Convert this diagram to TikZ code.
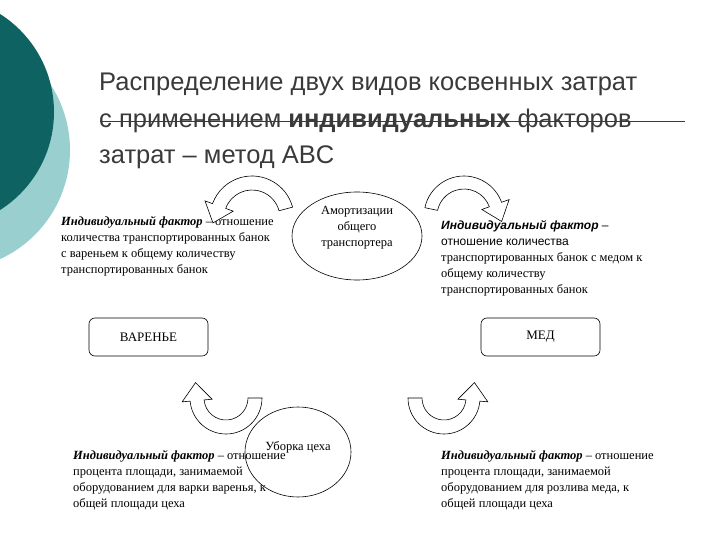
\documentclass[tikz,border=0pt]{standalone}
\usepackage{fontspec}
\setmainfont{Liberation Serif}
\newfontfamily\titlefont{Liberation Sans}
\usetikzlibrary{calc}
\definecolor{darkteal}{HTML}{0F6262}
\definecolor{lightteal}{HTML}{9ACFCF}
\definecolor{titlegray}{HTML}{3A3A3A}
\newcommand\barrow[6]{%
\pgfmathsetmacro\dirang{ifthenelse(#6>#5,90,-90)}%
\draw[fill=white,line width=0.6pt] ({#1+#4*cos(#5)},{#2+#4*sin(#5)}) arc[start angle=#5,end angle=#6,radius=#4]
 -- ({#1+(#4+8)*cos(#6)},{#2+(#4+8)*sin(#6)})
 -- ({#1+(#3+#4)/2*cos(#6)+18*cos(#6+\dirang)},{#2+(#3+#4)/2*sin(#6)+18*sin(#6+\dirang)})
 -- ({#1+(#3-8)*cos(#6)},{#2+(#3-8)*sin(#6)})
 -- ({#1+#3*cos(#6)},{#2+#3*sin(#6)}) arc[start angle=#6,end angle=#5,radius=#3] -- cycle;}
\begin{document}
\begin{tikzpicture}[x=1pt,y=-1pt,
  body/.style={anchor=north west,align=left,font=\fontsize{12.5}{16}\selectfont,inner sep=0pt},
  ctext/.style={align=center,font=\fontsize{12.5}{16}\selectfont,inner sep=0pt},
  prod/.style={draw,rounded corners=6pt,minimum width=119pt,minimum height=38pt,font=\fontsize{13}{15}\selectfont,line width=0.6pt}]
\useasboundingbox (0,0) rectangle (720,540);
\fill[lightteal] (-50,150) circle[radius=120];
\fill[darkteal] (-62,112) circle[radius=116];
% title
\node[anchor=north west,align=left,text=titlegray,font=\titlefont\fontsize{25.5}{36.5}\selectfont,inner sep=0pt] (title) at (99,73)
 {Распределение двух видов косвенных затрат\\с применением \textbf{индивидуальных} факторов\\затрат – метод ABC};
\draw[titlegray,line width=0.8pt] (100,121) -- (685,121);
% ellipses
\draw[line width=0.6pt] (357,236) ellipse[x radius=65,y radius=44];
\node[ctext] (amort) at (357,228) {Амортизации\\общего\\транспортера};
\draw[line width=0.6pt] (298,452) ellipse[x radius=53,y radius=45];
\node[ctext,anchor=north] (uborka) at (298,441) {Уборка цеха};
% boxes
\node[prod] (var) at (148.5,337) {ВАРЕНЬЕ};
\node[prod] (med) at (540.5,337) {МЕД};
% texts
\node[body] (t1) at (61,216) {\textbf{\textit{Индивидуальный фактор}} – отношение\\количества транспортированных банок\\с вареньем к общему количеству\\транспортированных банок};
\node[body] (t2) at (441,220) {{\titlefont\fontsize{12}{16}\selectfont\textbf{\textit{Индивидуальный фактор}} –}\\{\titlefont\fontsize{12}{16}\selectfont отношение количества}\\транспортированных банок с медом к\\общему количеству\\транспортированных банок};
\node[body] (t3) at (73,450) {\textbf{\textit{Индивидуальный фактор}} – отношение\\процента площади, занимаемой\\оборудованием для варки варенья, к\\общей площади цеха};
\node[body] (t4) at (441,450) {\textbf{\textit{Индивидуальный фактор}} – отношение\\процента площади, занимаемой\\оборудованием для розлива меда, к\\общей площади цеха};
% curved block arrows
\barrow{252}{218}{28}{42}{-15}{-160}
\barrow{464}{216}{27}{40}{-168}{-20}
\barrow{226}{398}{22}{36}{0}{175}
\barrow{444}{398}{22}{36}{180}{5}
\end{tikzpicture}
\end{document}
